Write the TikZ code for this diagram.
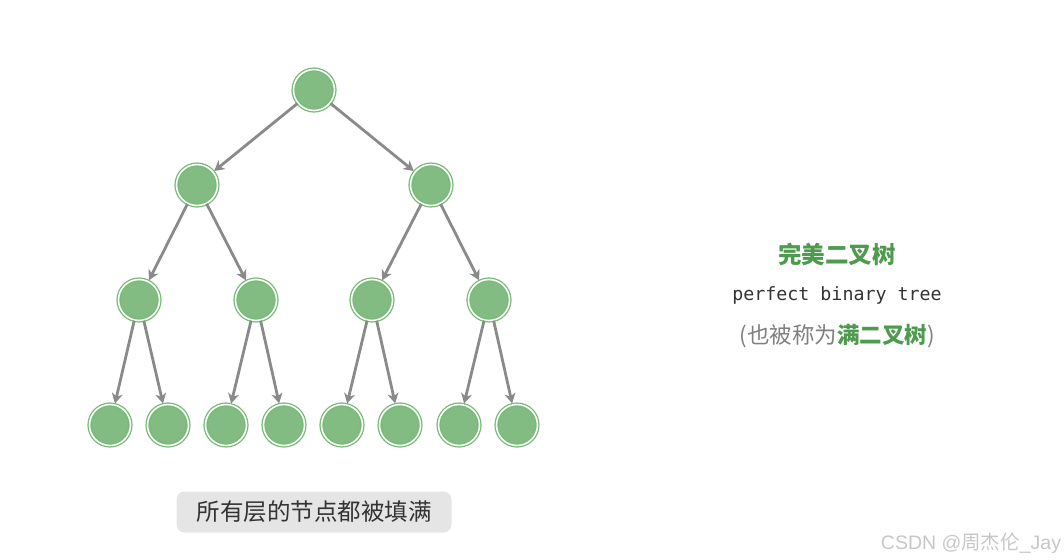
\documentclass[tikz,border=0pt]{standalone}
\usepackage{fontspec}
\setmonofont{DejaVu Sans Mono}
\newfontfamily\cjk{Noto Sans CJK SC}
\newfontfamily\marksans{Liberation Sans}
\usetikzlibrary{arrows.meta}
\definecolor{treegreen}{RGB}{130,188,130}
\definecolor{ringgreen}{RGB}{120,186,120}
\definecolor{titlegreen}{RGB}{78,154,78}
\definecolor{edgegray}{RGB}{138,138,138}
\definecolor{notegray}{RGB}{229,229,229}

\begin{document}
\begin{tikzpicture}[x=1pt,y=-1pt,
    vertex/.style={circle,minimum size=41pt,inner sep=0pt,fill=treegreen,
      draw=ringgreen,line width=1.3pt,double=white,double distance=1.6pt},
    arr/.style={-{Stealth[length=10pt,width=11pt,inset=3pt]},edgegray,line width=2.8pt,shorten >=1pt},
    note/.style={fill=notegray,rounded corners=8pt,minimum width=275pt,minimum height=41pt,
      font=\cjk\fontsize{23.5}{26}\selectfont,text=black!80}
  ]
    \useasboundingbox (0,0) rectangle (1064,559);
    % tree
    \node[vertex] (root) at (314,90) {};
    \node[vertex] (l) at (197,185) {};
    \node[vertex] (r) at (431,185) {};
    \node[vertex] (ll) at (139,300) {};
    \node[vertex] (lr) at (256,300) {};
    \node[vertex] (rl) at (372,300) {};
    \node[vertex] (rr) at (489,300) {};
    \node[vertex] (lll) at (110,425) {};
    \node[vertex] (llr) at (168,425) {};
    \node[vertex] (lrl) at (226,425) {};
    \node[vertex] (lrr) at (284,425) {};
    \node[vertex] (rll) at (342,425) {};
    \node[vertex] (rlr) at (400,425) {};
    \node[vertex] (rrl) at (459,425) {};
    \node[vertex] (rrr) at (517,425) {};
    \draw[arr] (root) -- (l);
    \draw[arr] (root) -- (r);
    \foreach \p in {l,r} {
      \draw[arr] (\p) -- (\p l);
      \draw[arr] (\p) -- (\p r);
    }
    \foreach \p in {ll,lr,rl,rr} {
      \draw[arr] (\p) -- (\p l);
      \draw[arr] (\p) -- (\p r);
    }
    % labels
    \node[note] (fill) at (314,512) {所有层的节点都被填满};
    \node[font=\cjk\bfseries\fontsize{23.5}{26}\selectfont,text=titlegreen] (title) at (837,254) {完美二叉树};
    \node[font=\ttfamily\fontsize{18.3}{21}\selectfont,text=black!80] (en) at (837,295) {perfect binary tree};
    \node[font=\cjk\fontsize{22.5}{25}\selectfont,text=black!50] (alias) at (837,336)
      {(也被称为{\bfseries\color{titlegreen}满二叉树})};
    \node[font=\cjk\fontsize{19.5}{22}\selectfont,text=black!22] (mark) at (971,543)
      {{\marksans CSDN @}周杰伦{\marksans\_Jay}};
  \end{tikzpicture}
\end{document}
